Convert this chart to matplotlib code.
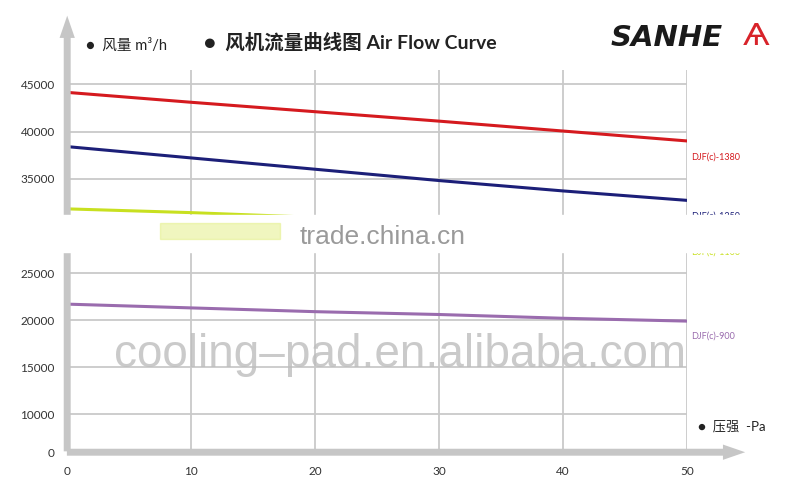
import numpy as np
import matplotlib.pyplot as plt
from matplotlib.patches import Rectangle

plt.rcParams['font.family'] = ['Lato', 'Noto Sans CJK SC', 'DejaVu Sans']

# pressure (Pa) and air flow (m3/h)
pressure = [0, 10, 20, 30, 40, 50]
flow_1380 = [44150, 43100, 42100, 41100, 40050, 39000]
flow_1250 = [38400, 37200, 36000, 34800, 33700, 32700]
flow_1100 = [31800, 31400, 30900, 30300, 29600, 28900]
flow_900 = [21700, 21300, 20900, 20600, 20200, 19900]

models = ['DJF(c)-1380', 'DJF(c)-1250', 'DJF(c)-1100', 'DJF(c)-900']
series = [flow_1380, flow_1250, flow_1100, flow_900]
colors = ['#d51a1f', '#1c1f78', '#c8e020', '#9a6cae']

y_ticks = [0, 10000, 15000, 20000, 25000, 30000, 35000, 40000, 45000]
x_ticks = [0, 10, 20, 30, 40, 50]


# y axis is squeezed below 10000, like the original
def fwd(y):
    y = np.asarray(y, dtype=float)
    return np.where(y < 10000, 6000 + y * 0.4, y)


def inv(u):
    u = np.asarray(u, dtype=float)
    return np.where(u < 10000, (u - 6000) / 0.4, u)


fig = plt.figure(figsize=(8, 4.91), dpi=100)
ax = fig.add_axes([0.084, 0.079, 0.775, 0.778])
ax.set_yscale('function', functions=(fwd, inv))
ax.set_xlim(0, 50)
ax.set_ylim(0, 46500)

for v in y_ticks[1:]:
    ax.axhline(v, color='#c9c9c9', lw=1.3, zorder=1)
for v in x_ticks[1:]:
    ax.axvline(v, color='#c9c9c9', lw=1.3, zorder=1)

for vals, c in zip(series, colors):
    ax.plot(pressure, vals, color=c, lw=2.2, zorder=3)

label_y = [37300, 31000, 27200, 18300]
for name, c, ly in zip(models, colors, label_y):
    ax.text(50.3, ly, name, color=c, fontsize=6.5, va='center', ha='left',
            clip_on=False)

ax.set_xticks(x_ticks)
ax.set_yticks(y_ticks)
ax.set_xticklabels([str(v) for v in x_ticks], fontsize=8.5, color='#333333')
ax.set_yticklabels([str(v) for v in y_ticks], fontsize=8.5, color='#333333')
ax.tick_params(length=0, pad=10)
ax.tick_params(axis='y', pad=9)
for s in ax.spines.values():
    s.set_visible(False)

# thick grey arrow axes
ax.annotate('', xy=(0, 1.15), xytext=(0, -0.005), xycoords='axes fraction',
            arrowprops=dict(arrowstyle='simple,head_width=1.1,head_length=1.6,tail_width=0.5',
                            color='#c6c6c6', lw=0), annotation_clip=False)
ax.annotate('', xy=(1.098, 0), xytext=(-0.005, 0), xycoords='axes fraction',
            arrowprops=dict(arrowstyle='simple,head_width=1.1,head_length=1.6,tail_width=0.5',
                            color='#c6c6c6', lw=0), annotation_clip=False)

fig.text(0.107, 0.907, '●  风量 m³/h', fontsize=10.5, color='#222222', va='center')
fig.text(0.255, 0.914, '●  风机流量曲线图 Air Flow Curve', fontsize=14,
         fontweight='bold', color='#222222', va='center')
fig.text(0.873, 0.132, '●  压强  -Pa', fontsize=9.5, color='#222222', va='center')
fig.text(0.763, 0.922, 'SANHE', fontsize=21, fontweight='heavy', style='italic',
         color='#1a1a1a', va='center', family=['DejaVu Sans'])
fig.text(0.928, 0.925, 'Ѧ', fontsize=22, color='#d8232a', va='center',
         family=['DejaVu Sans'])

# watermarks of the source image
band = Rectangle((0.0, 0.487), 0.96, 0.075, transform=fig.transFigure,
                 color='white', alpha=1.0, zorder=10)
fig.patches.append(band)
glow = Rectangle((0.2, 0.513), 0.15, 0.033, transform=fig.transFigure,
                 color='#e2ef80', alpha=0.5, zorder=11)
fig.patches.append(glow)
fig.text(0.375, 0.518, 'trade.china.cn', fontsize=19, color='#9a9a9a',
         va='center', zorder=12, family=['Liberation Sans'])
fig.text(0.143, 0.278, 'cooling–pad.en.alibaba.com', fontsize=33,
         color='#bdbdbd', alpha=0.8, va='center', zorder=12,
         family=['Liberation Sans'])

fig.savefig('out.png', dpi=100)
